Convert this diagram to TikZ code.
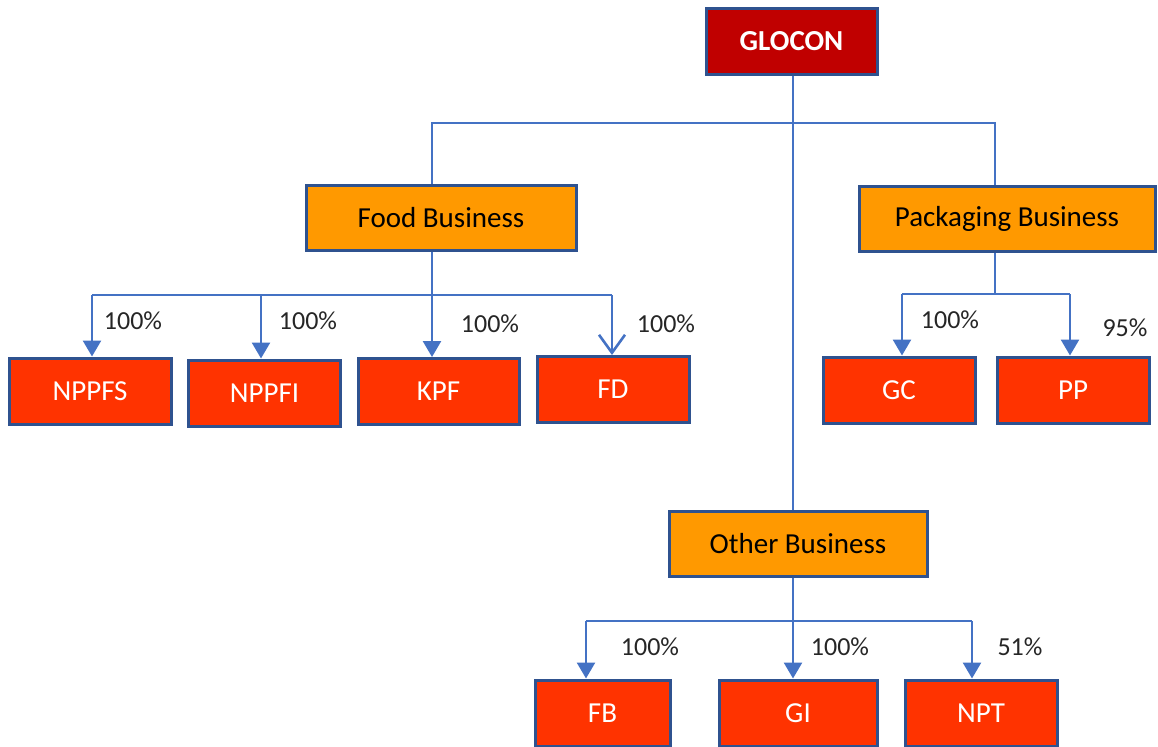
\documentclass[tikz,border=0pt]{standalone}
\usepackage{fontspec}
\setmainfont{Carlito}
\usetikzlibrary{arrows.meta}

\definecolor{linkblue}{HTML}{4472C4}
\definecolor{rimblue}{HTML}{2F528F}
\definecolor{topred}{HTML}{C00000}
\definecolor{unitred}{HTML}{FF3300}
\definecolor{busorange}{HTML}{FF9900}

\begin{document}
\begin{tikzpicture}[x=0.5pt, y=-0.5pt,
    topbox/.style={draw=rimblue, line width=1.5pt, fill=topred, text=white,
        font=\fontsize{14.5}{16}\selectfont\bfseries, minimum width=85.5pt, minimum height=33pt},
    busbox/.style={draw=rimblue, line width=1.5pt, fill=busorange,
        font=\fontsize{14.5}{16}\selectfont, minimum height=32.5pt},
    unitbox/.style={draw=rimblue, line width=1.5pt, fill=unitred, text=white,
        font=\fontsize{14.5}{16}\selectfont, minimum width=76pt, minimum height=33pt},
    link/.style={draw=linkblue, line width=1.3pt},
    arr/.style={link, -{Triangle[width=9pt,length=8pt]}},
    share/.style={font=\fontsize{13}{15}\selectfont, text=black!85}]
    \useasboundingbox (0,0) rectangle (1158,746);

    % Holding
    \node[topbox] (glocon) at (791.5,41) {GLOCON};

    % Sparten
    \node[busbox, minimum width=135pt] (food) at (441,218) {Food Business};
    \node[busbox, minimum width=148pt] (pack) at (1007,219) {Packaging Business};
    \node[busbox, minimum width=129pt] (other) at (798,543.5) {Other Business};

    % Gesellschaften
    \node[unitbox, minimum width=81pt] (nppfs) at (90,391) {NPPFS};
    \node[unitbox] (nppfi) at (264.5,393) {NPPFI};
    \node[unitbox, minimum width=80.5pt] (kpf) at (438.5,391.5) {KPF};
    \node[unitbox] (fd) at (613,389.5) {FD};
    \node[unitbox] (gc) at (899,390) {GC};
    \node[unitbox] (pp) at (1073,390) {PP};
    \node[unitbox, minimum width=67.5pt] (fb) at (602.5,713) {FB};
    \node[unitbox, minimum width=79pt] (gi) at (798,713) {GI};
    \node[unitbox] (npt) at (981,713) {NPT};

    % Holding zu Sparten
    \coordinate (fsplit) at (432,123);
    \coordinate (psplit) at (995,123);
    \draw[link] (793,74 |- glocon.south) -- (793,0 |- other.north);
    \draw[link] (fsplit |- food.north) -- (fsplit) -- (psplit) -- (psplit |- pack.north);

    % Food Business
    \coordinate (fbus) at (432,295);
    \coordinate (fleft) at (92,295);
    \coordinate (fright) at (612,295);
    \draw[link] (fbus |- food.south) -- (fbus);
    \draw[link] (fleft) -- (fright);
    \foreach \x/\n in {92/nppfs, 261/nppfi, 432/kpf}
        \draw[arr] (\x,295) -- (\x,0 |- \n.north);
    \draw[link, -{Straight Barb[width=13pt,length=9pt]}] (fright) -- (fright |- fd.north);
    \node[share] (sa) at (133,321) {100\%};
    \node[share] (sb) at (308,321) {100\%};
    \node[share] (sc) at (490,324) {100\%};
    \node[share] (sd) at (666,324) {100\%};

    % Packaging Business
    \coordinate (pbus) at (995,294);
    \coordinate (pleft) at (902,294);
    \coordinate (pright) at (1070,294);
    \draw[link] (pbus |- pack.south) -- (pbus);
    \draw[link] (pleft) -- (pright);
    \draw[arr] (pleft) -- (pleft |- gc.north);
    \draw[arr] (pright) -- (pright |- pp.north);
    \node[share] (se) at (950,320) {100\%};
    \node[share] (sf) at (1125,328) {95\%};

    % Other Business
    \coordinate (obus) at (793,621);
    \coordinate (oleft) at (586,621);
    \coordinate (oright) at (972,621);
    \draw[link] (obus |- other.south) -- (obus);
    \draw[link] (oleft) -- (oright);
    \draw[arr] (oleft) -- (oleft |- fb.north);
    \draw[arr] (obus) -- (obus |- gi.north);
    \draw[arr] (oright) -- (oright |- npt.north);
    \node[share] (sg) at (650,647) {100\%};
    \node[share] (sh) at (840,647) {100\%};
    \node[share] (si) at (1020,647) {51\%};
\end{tikzpicture}
\end{document}
